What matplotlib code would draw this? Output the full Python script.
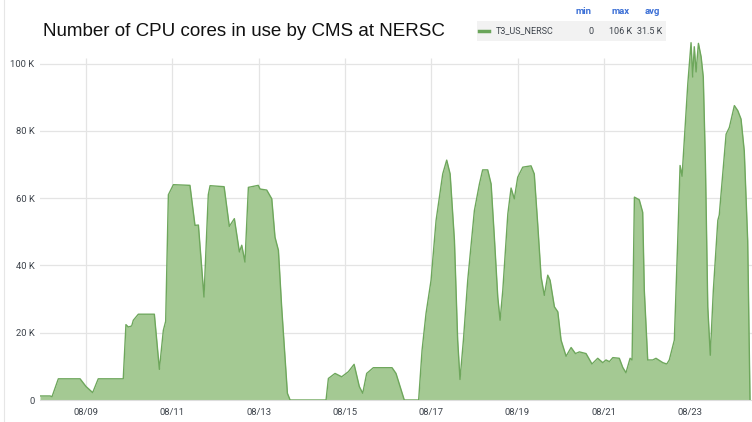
import numpy as np
import pandas as pd
import matplotlib
matplotlib.use("Agg")
import matplotlib.pyplot as plt
import matplotlib.dates as mdates
from matplotlib.lines import Line2D
from matplotlib.patches import Rectangle

# Time axis: hours since 08/08 00:00, cores in use (thousands)
hours = [-1.6, 4.0, 5.1, 8.6, 20.7, 24.0, 27.7, 30.8, 44.7, 46.2,
         47.5, 49.4, 50.3, 53.1, 62.0, 64.8, 67.0, 68.3, 69.8, 72.6,
         81.8, 84.6, 86.5, 89.6, 92.0, 93.0, 100.8, 103.7, 106.5, 109.3,
         110.6, 112.4, 114.3, 119.8, 120.8, 124.5, 127.3, 129.1, 131.0, 132.8,
         136.0, 137.5, 157.5, 158.8, 162.5, 166.2, 169.9, 173.1, 176.0, 177.9,
         180.1, 183.8, 194.2, 196.4, 201.0, 209.0, 210.9, 213.1, 215.9, 218.7,
         222.4, 224.6, 226.5, 228.9, 230.7, 232.0, 233.9, 236.3, 240.0, 242.8,
         244.6, 247.4, 249.3, 251.1, 253.0, 254.3, 255.8, 258.6, 260.4, 262.2,
         264.1, 266.9, 271.5, 273.3, 275.2, 277.1, 278.9, 280.8, 282.1, 284.5,
         286.4, 288.2, 291.0, 293.8, 296.2, 298.4, 302.1, 305.4, 308.6, 311.4,
         313.2, 315.1, 317.0, 320.6, 322.5, 324.3, 326.6, 327.7, 329.0, 331.7,
         333.6, 334.5, 336.4, 339.2, 341.0, 344.8, 347.0, 348.4, 351.2, 353.1,
         354.4, 355.5, 358.7, 360.5, 361.4, 362.3, 363.3, 364.6, 366.1, 367.3,
         368.5, 369.8, 371.2, 372.9, 375.4, 376.2, 380.0, 381.8, 384.6, 386.5,
         388.3, 390.1, 392.0, 393.3]
cores_k = [1.2, 1.2, 1.0, 6.3, 6.3, 4.0, 2.2, 6.3, 6.3, 22.4,
           21.7, 22.0, 23.7, 25.5, 25.5, 9.1, 20.7, 23.4, 61.0, 64.0,
           63.8, 51.9, 52.0, 30.6, 61.0, 63.7, 63.4, 51.6, 53.9, 44.0,
           46.0, 41.0, 63.2, 63.8, 62.7, 62.4, 59.8, 48.4, 44.5, 27.7,
           2.0, 0.0, 0.0, 6.4, 7.9, 6.9, 8.4, 10.6, 4.0, 2.0,
           7.9, 9.6, 9.6, 7.9, 0.0, 0.0, 14.8, 25.7, 35.6, 53.4,
           67.2, 71.3, 67.2, 47.4, 17.8, 6.1, 17.8, 35.6, 56.3, 64.2,
           68.4, 68.4, 64.2, 48.4, 30.6, 23.7, 32.6, 55.3, 63.0, 59.8,
           66.2, 69.2, 69.6, 67.2, 52.4, 36.6, 31.1, 37.1, 35.6, 27.7,
           26.2, 17.8, 13.0, 15.6, 13.8, 14.3, 13.8, 10.7, 12.4, 11.1,
           11.9, 11.4, 12.6, 12.4, 9.7, 8.1, 12.4, 11.9, 60.3, 59.5,
           55.8, 32.6, 11.9, 11.9, 12.4, 11.1, 10.7, 11.9, 17.8, 47.4,
           69.7, 66.5, 94.0, 106.2, 96.0, 105.0, 97.5, 106.0, 102.0, 96.0,
           70.0, 27.7, 13.3, 32.6, 53.4, 55.0, 79.0, 81.0, 87.5, 86.0,
           83.5, 74.0, 47.4, 0.0]

yticks = [0, 20, 40, 60, 80, 100]
ytick_labels = ["0", "20 K", "40 K", "60 K", "80 K", "100 K"]
series_name = "T3_US_NERSC"
stat_names = ["min", "max", "avg"]
stat_values = ["0", "106 K", "31.5 K"]
title = "Number of CPU cores in use by CMS at NERSC"

base = pd.Timestamp("2023-08-08")
times = base + pd.to_timedelta(hours, unit="h")
xmin = base + pd.to_timedelta(-1.6, unit="h")
xmax = base + pd.to_timedelta(394.4, unit="h")

fill_col = "#a4c993"
line_col = "#6ea75c"
grid_col = "#e4e4e4"
text_col = "#3d434b"

fig = plt.figure(figsize=(7.52, 4.22), dpi=100)
ax = fig.add_axes([40/752, 22/422, 712/752, 360/422])

ax.fill_between(times, cores_k, 0, color=fill_col, lw=0, zorder=2)
ax.plot(times, cores_k, color=line_col, lw=1.0, zorder=3)

ax.set_xlim(xmin, xmax)
ax.set_ylim(0, 107)

# grid: horizontal over full width, vertical stops just above 100 K
for y in yticks[1:]:
    ax.axhline(y, color=grid_col, lw=0.9, zorder=1)
day_ticks = pd.date_range("2023-08-09", "2023-08-23", freq="2D")
ax.vlines(day_ticks, 0, 101.6, color=grid_col, lw=0.9, zorder=1)

ax.set_yticks(yticks)
ax.set_yticklabels(ytick_labels)
ax.set_xticks(day_ticks)
ax.xaxis.set_major_formatter(mdates.DateFormatter("%m/%d"))
ax.tick_params(axis="both", length=0, labelsize=6.8, labelcolor=text_col)
ax.tick_params(axis="x", pad=6)
ax.tick_params(axis="y", pad=4)
for lab in ax.get_xticklabels() + ax.get_yticklabels():
    lab.set_family("Roboto")
for s in ax.spines.values():
    s.set_visible(False)
ax.spines["bottom"].set_visible(True)
ax.spines["bottom"].set_color("#dddddd")
ax.spines["bottom"].set_linewidth(0.8)

# title
fig.text(43/752, 1 - 31/422, title, fontsize=13.5, family="Liberation Sans",
         color="#111111", va="center", ha="left")

# legend box with stats
fig.patches.append(Rectangle((477/752, 1 - 41/422), 189/752, 20/422,
                             transform=fig.transFigure, facecolor="#f2f2f2",
                             edgecolor="none"))
fig.lines.append(Line2D([479/752, 489/752], [1 - 31/422] * 2,
                        transform=fig.transFigure, color="#6aa55a", lw=2.5))
fig.text(496/752, 1 - 31/422, series_name, fontsize=6.5, family="Roboto",
         color=text_col, va="center", ha="left")
stat_x = [592, 630, 660]
for sx, name, val in zip(stat_x, stat_names, stat_values):
    fig.text(sx/752, 1 - 11/422, name, fontsize=6.8, family="Roboto",
             weight="bold", color="#3b6fd6", va="center", ha="right")
    fig.text((sx + 2)/752, 1 - 31/422, val, fontsize=6.5, family="Roboto",
             color=text_col, va="center", ha="right")

# faint panel border on the left
fig.lines.append(Line2D([4/752, 4/752], [0, 1], transform=fig.transFigure,
                        color="#e6e6e6", lw=0.8))

fig.savefig("out.png", dpi=100)
